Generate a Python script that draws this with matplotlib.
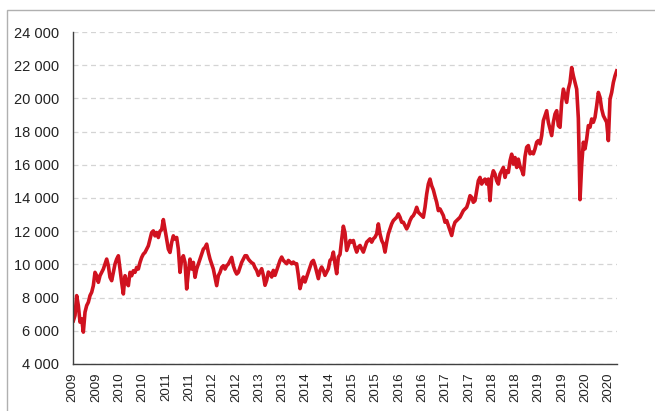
import numpy as np
import pandas as pd
import matplotlib
matplotlib.use('Agg')
import matplotlib.pyplot as plt
import matplotlib.dates as mdates
from matplotlib.patches import Rectangle
from matplotlib.ticker import FuncFormatter, MultipleLocator

plt.rcParams['font.family'] = ['Liberation Sans', 'DejaVu Sans']

# index level, roughly every two weeks
values = [
    6600, 6920, 8120, 7520, 6520, 6720, 5920, 7120, 7520, 7720,
    8120, 8320, 8720, 9520, 9320, 8920, 9320, 9520, 9720, 10020,
    10320, 9920, 9220, 9020, 9520, 10020, 10320, 10520, 9720, 8920,
    8220, 9320, 8920, 8720, 9520, 9320, 9620, 9520, 9820, 9720,
    10120, 10420, 10620, 10720, 10920, 11120, 11520, 11920, 12020, 11720,
    11920, 11620, 12000, 12100, 12700, 12100, 11520, 10920, 10720, 11320,
    11720, 11520, 11620, 10920, 9520, 10320, 10520, 10120, 8520, 9520,
    10320, 9720, 10120, 9220, 9720, 10020, 10320, 10620, 10920, 11020,
    11220, 10720, 10320, 10020, 9720, 9220, 8720, 9320, 9520, 9820,
    9920, 9720, 9920, 10020, 10220, 10420, 9920, 9620, 9420, 9520,
    9820, 10120, 10320, 10520, 10520, 10320, 10200, 10100, 10040, 9800,
    9640, 9340, 9540, 9740, 9340, 8740, 9040, 9540, 9440, 9240,
    9640, 9340, 9640, 9940, 10240, 10440, 10240, 10140, 10040, 10240,
    10140, 10040, 10140, 10040, 10040, 9340, 8540, 8940, 9240, 8940,
    9240, 9540, 9840, 10140, 10240, 9940, 9540, 9140, 9640, 9840,
    9640, 9340, 9540, 9740, 10240, 10340, 10740, 10040, 9440, 10440,
    10600, 11500, 12300, 11900, 10840, 11140, 11440, 11340, 11440, 11040,
    10740, 11040, 11140, 10940, 10740, 11040, 11340, 11440, 11540, 11340,
    11540, 11640, 11840, 12440, 11840, 11440, 11240, 10740, 11340, 11840,
    12140, 12440, 12640, 12740, 12840, 13040, 12840, 12540, 12540, 12340,
    12140, 12340, 12640, 12840, 12940, 13140, 13440, 13140, 13040, 12940,
    12840, 13440, 14240, 14840, 15140, 14740, 14490, 14100, 13740, 13240,
    13340, 13140, 12940, 12540, 12640, 12340, 12040, 11740, 12240, 12540,
    12640, 12740, 12840, 13040, 13240, 13340, 13440, 13740, 14140, 14040,
    13740, 13840, 14440, 15040, 15240, 14840, 15040, 15140, 14840, 15140,
    13840, 15240, 15640, 15440, 15040, 14840, 15440, 15640, 15840, 15240,
    15640, 15540, 16240, 16640, 16040, 16440, 15840, 16340, 15900, 15700,
    15400, 16500, 17060, 17160, 16660, 16760, 16660, 16960, 17360, 17460,
    17260, 17760, 18660, 18960, 19260, 18560, 18160, 17760, 18560, 19060,
    19260, 18360, 18260, 19760, 20560, 20160, 19760, 20560, 20960, 21860,
    21360, 20960, 20560, 18800, 13900, 16000, 17360, 16960, 17560, 18360,
    18260, 18760, 18560, 18860, 19560, 20360, 20060, 19360, 18960, 18760,
    18560, 17460, 19960, 20360, 20960, 21360, 21660,
]
first_day = '2009-04-06'
last_day = '2020-12-02'
dates = pd.date_range(first_day, last_day, periods=len(values))

fig = plt.figure(figsize=(6.55, 4.11), dpi=100)
ax = fig.add_axes([0.111, 0.1144, 0.8305, 0.8077])

ax.plot(dates, values, color='#d0121f', lw=2.6, solid_joinstyle='round')

ax.set_ylim(4000, 24000)
ax.yaxis.set_major_locator(MultipleLocator(2000))
ax.yaxis.set_major_formatter(FuncFormatter(lambda v, p: f'{int(v):,}'.replace(',', ' ')))
ax.set_xlim(pd.Timestamp('2009-04-01'), pd.Timestamp(last_day))
ax.xaxis.set_major_locator(mdates.MonthLocator(bymonth=(4, 10), bymonthday=1))
ax.xaxis.set_major_formatter(mdates.DateFormatter('%Y'))

ax.grid(axis='y', color='#d4d4d4', ls=(0, (4, 3)), lw=0.9)
ax.set_axisbelow(True)
for s in ('top', 'right'):
    ax.spines[s].set_visible(False)
for s in ('left', 'bottom'):
    ax.spines[s].set_color('#404040')
    ax.spines[s].set_linewidth(1.0)

ax.tick_params(axis='y', length=0, pad=10, labelsize=10.5, labelcolor='#222222')
ax.tick_params(axis='x', length=0, pad=6, labelsize=9.5, labelcolor='#222222', labelrotation=90)

# light frame around the whole picture
fig.patches.append(Rectangle((7 / 655, -0.05), 1.1, 1 - 10 / 411 + 0.05,
                             transform=fig.transFigure, fill=False,
                             edgecolor='#b0b0b0', lw=1.0))

fig.savefig('out.png', dpi=100)
